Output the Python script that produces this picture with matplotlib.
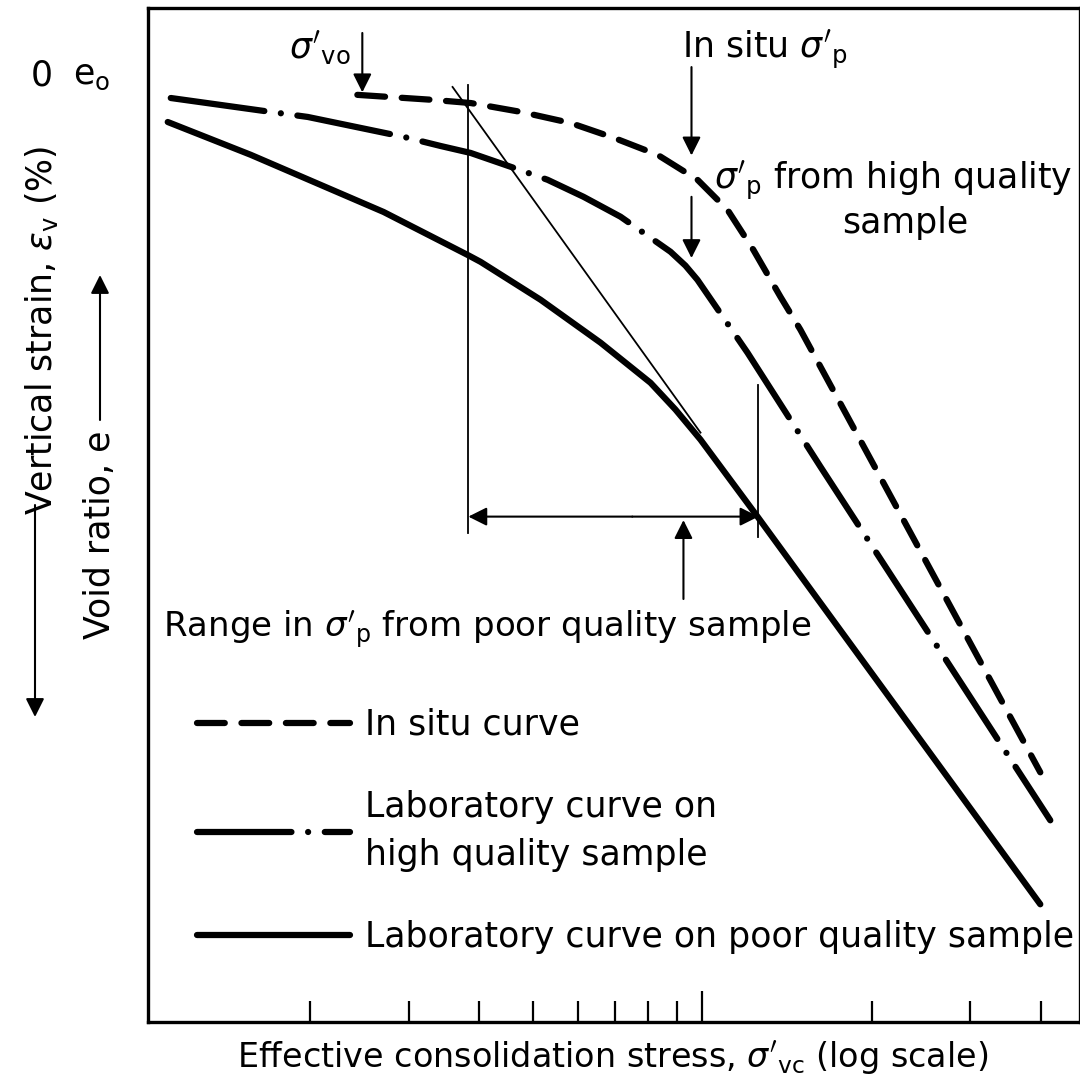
import matplotlib
matplotlib.use('Agg')
import matplotlib.pyplot as plt
from matplotlib.ticker import FixedLocator, NullFormatter

plt.rcParams['font.family'] = ['DejaVu Sans']
plt.rcParams['mathtext.fontset'] = 'dejavusans'
plt.rcParams['lines.scale_dashes'] = False

# effective consolidation stress (log scale, schematic units) vs vertical strain (%)
insitu_stress = [2.43, 3.32, 3.87, 4.75, 5.82, 6.95, 8.32, 9.80, 11.08, 12.32, 13.77, 14.94, 39.94]
insitu_strain = [0.63, 0.79, 0.89, 1.17, 1.52, 1.99, 2.53, 3.32, 4.27, 5.54, 7.03, 8.07, 22.09]

hq_stress = [1.131, 1.703, 1.983, 2.937, 3.419, 3.866, 4.610, 5.299, 6.142, 7.147,
             8.772, 9.327, 9.797, 12.03, 16.22, 41.61]
hq_strain = [0.73, 1.17, 1.33, 1.96, 2.25, 2.47, 2.94, 3.32, 3.86, 4.49,
             5.60, 6.04, 6.49, 8.80, 12.41, 23.61]

poor_stress = [1.117, 1.570, 2.706, 3.818, 4.027, 5.149, 6.585, 8.081, 8.953, 9.918, 12.53, 39.94]
poor_strain = [1.49, 2.53, 4.34, 5.70, 5.92, 7.12, 8.48, 9.75, 10.60, 11.55, 13.99, 26.27]

# Casagrande-type construction on the poor quality curve
tangent_stress = [3.59, 9.92]
tangent_strain = [0.38, 11.33]
range_lo, range_hi = 3.83, 12.58      # range of sigma'p from poor sample
range_strain = 13.99
sigma_vo = 2.48
sigma_p_insitu = 9.56

minor_ticks = [2, 3, 4, 5, 6, 7, 8, 9, 20, 30, 40]
major_ticks = [10]

labels = ['In situ curve',
          'Laboratory curve on\nhigh quality sample',
          'Laboratory curve on poor quality sample']

fs = 25
lw = 4.5

fig = plt.figure(figsize=(10.8, 10.86), dpi=100)
ax = fig.add_axes([0.137, 0.0589, 0.863, 0.9337])

l1, = ax.plot(insitu_stress, insitu_strain, color='k', lw=lw,
              linestyle=(0, (20, 12)), dash_capstyle='round', solid_capstyle='round')
l2, = ax.plot(hq_stress, hq_strain, color='k', lw=lw,
              linestyle=(0, (68, 12, 0.01, 12)), dash_capstyle='round', solid_capstyle='round')
l3, = ax.plot(poor_stress, poor_strain, color='k', lw=lw, solid_capstyle='round')

ax.plot(tangent_stress, tangent_strain, color='k', lw=1.3)
ax.plot([range_lo, range_lo], [0.32, 14.5], color='k', lw=1.3)
ax.plot([range_hi, range_hi], [9.81, 14.62], color='k', lw=1.3)

arrow = dict(arrowstyle='-|>', color='k', lw=1.5, mutation_scale=28, shrinkA=0, shrinkB=0)
ax.annotate('', xy=(range_lo, range_strain), xytext=(7.5, range_strain), arrowprops=arrow)
ax.annotate('', xy=(range_hi, range_strain), xytext=(7.5, range_strain), arrowprops=arrow)
ax.annotate('', xy=(9.25, 14.1), xytext=(9.25, 16.6), arrowprops=arrow)
ax.annotate('', xy=(sigma_p_insitu, 2.55), xytext=(sigma_p_insitu, -0.25), arrowprops=arrow)
ax.annotate('', xy=(sigma_p_insitu, 5.8), xytext=(sigma_p_insitu, 3.86), arrowprops=arrow)
ax.annotate('', xy=(sigma_vo, 0.55), xytext=(sigma_vo, -1.33), arrowprops=arrow)

ax.text(2.36, -0.55, r"$\sigma'_{\mathregular{vo}}$", fontsize=fs, ha='right', va='baseline')
ax.text(9.18, -0.57, r"In situ $\sigma'_{\mathregular{p}}$", fontsize=fs, ha='left', va='baseline')
ax.text(10.5, 3.58, r"$\sigma'_{\mathregular{p}}$ from high quality", fontsize=fs,
        ha='left', va='baseline')
ax.text(23.0, 5.0, 'sample', fontsize=fs, ha='center', va='baseline')
ax.text(1.094, 17.82, r"Range in $\sigma'_{\mathregular{p}}$ from poor quality sample",
        fontsize=24.5, ha='left', va='baseline')

ax.set_xscale('log')
ax.set_xlim(1.03, 47)
ax.set_ylim(30, -2.12)
ax.xaxis.set_major_locator(FixedLocator(major_ticks))
ax.xaxis.set_minor_locator(FixedLocator(minor_ticks))
ax.xaxis.set_major_formatter(NullFormatter())
ax.xaxis.set_minor_formatter(NullFormatter())
ax.tick_params(axis='x', which='major', direction='in', length=22, width=1.6)
ax.tick_params(axis='x', which='minor', direction='in', length=15, width=1.6)
ax.set_yticks([])
for s in ax.spines.values():
    s.set_linewidth(2.4)

leg = ax.legend(handles=[l1, l2, l3], labels=labels, loc='upper left',
                bbox_to_anchor=(0.0525, 0.31), frameon=False, fontsize=fs,
                handlelength=4.4, handletextpad=0.45, labelspacing=1.4,
                borderpad=0, borderaxespad=0)
for t in leg.get_texts():
    t.set_linespacing(1.5)

# axis labels drawn as figure text
fig.text(42 / 1080, 1 - 75 / 1086, '0', fontsize=fs, ha='center', va='center')
fig.text(92 / 1080, 1 - 75 / 1086, r'$\mathregular{e_o}$', fontsize=fs, ha='center', va='center')
fig.text(613 / 1080, 1 - 1058 / 1086,
         r"Effective consolidation stress, $\sigma'_{\mathregular{vc}}$ (log scale)",
         fontsize=24, ha='center', va='center')
fig.text(42 / 1080, 1 - 330 / 1086, r'Vertical strain, $\epsilon_{\mathregular{v}}$ (%)',
         fontsize=fs, rotation=90, ha='center', va='center')
fig.text(100 / 1080, 1 - 535 / 1086, 'Void ratio, e',
         fontsize=fs, rotation=90, ha='center', va='center')
ax.annotate('', xy=(35 / 1080, 1 - 717 / 1086), xytext=(35 / 1080, 1 - 505 / 1086),
            xycoords='figure fraction', textcoords='figure fraction', arrowprops=arrow)
ax.annotate('', xy=(100 / 1080, 1 - 275 / 1086), xytext=(100 / 1080, 1 - 420 / 1086),
            xycoords='figure fraction', textcoords='figure fraction', arrowprops=arrow)

fig.savefig('out.png', dpi=100)
